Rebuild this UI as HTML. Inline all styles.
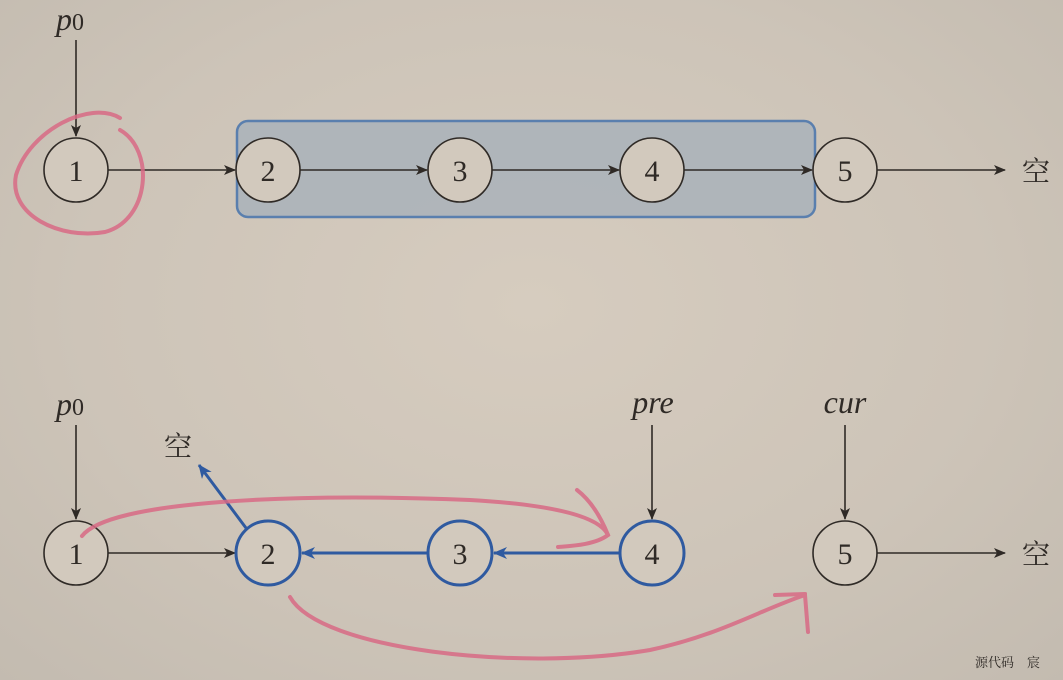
<!DOCTYPE html>
<html><head><meta charset="utf-8"><style>
html,body{margin:0;padding:0;width:1063px;height:680px;overflow:hidden}
body{background:radial-gradient(ellipse at 50% 45%,#d6ccbf 0%,#cdc4b8 60%,#c3bbb0 100%)}
text{font-family:"Liberation Serif","Noto Serif CJK SC",serif;fill:#2f2a26}
</style></head><body>
<svg width="1063" height="680" viewBox="0 0 1063 680">
<defs>
<marker id="a" markerWidth="12" markerHeight="10" refX="11" refY="5" orient="auto" markerUnits="userSpaceOnUse"><path d="M0,0 L12,5 L0,10 L3,5z" fill="#2f2a26"/></marker>
<marker id="b" markerWidth="14" markerHeight="12" refX="13" refY="6" orient="auto" markerUnits="userSpaceOnUse"><path d="M0,0 L14,6 L0,12 L4,6z" fill="#2f5aa0"/></marker>
</defs>
<rect x="237" y="121" width="578" height="96" rx="11" fill="#a9b1ba" fill-opacity="0.85" stroke="#5a7fae" stroke-width="2.5"/>
<g stroke="#2f2a26" stroke-width="1.6" fill="none">
<line x1="76" y1="40" x2="76" y2="136" marker-end="url(#a)"/>
<line x1="108" y1="170" x2="235" y2="170" marker-end="url(#a)"/>
<line x1="300" y1="170" x2="427" y2="170" marker-end="url(#a)"/>
<line x1="492" y1="170" x2="619" y2="170" marker-end="url(#a)"/>
<line x1="684" y1="170" x2="812" y2="170" marker-end="url(#a)"/>
<line x1="877" y1="170" x2="1005" y2="170" marker-end="url(#a)"/>
<line x1="76" y1="425" x2="76" y2="519" marker-end="url(#a)"/>
<line x1="652" y1="425" x2="652" y2="519" marker-end="url(#a)"/>
<line x1="845" y1="425" x2="845" y2="519" marker-end="url(#a)"/>
<line x1="108" y1="553" x2="235" y2="553" marker-end="url(#a)"/>
<line x1="877" y1="553" x2="1005" y2="553" marker-end="url(#a)"/>
</g>
<g stroke="#2f5aa0" stroke-width="3" fill="none">
<line x1="620" y1="553" x2="494" y2="553" marker-end="url(#b)"/>
<line x1="428" y1="553" x2="302" y2="553" marker-end="url(#b)"/>
<line x1="246" y1="528" x2="199" y2="465" marker-end="url(#b)"/>
</g>
<g fill="#d2c9bd" stroke="#2f2a26" stroke-width="1.6">
<circle cx="76" cy="170" r="32"/><circle cx="268" cy="170" r="32"/><circle cx="460" cy="170" r="32"/><circle cx="652" cy="170" r="32"/><circle cx="845" cy="170" r="32"/>
<circle cx="76" cy="553" r="32"/><circle cx="845" cy="553" r="32"/>
</g>
<g fill="#d2c9bd" stroke="#2f5aa0" stroke-width="3">
<circle cx="268" cy="553" r="32"/><circle cx="460" cy="553" r="32"/><circle cx="652" cy="553" r="32"/>
</g>
<g font-size="30" text-anchor="middle">
<text x="76" y="181">1</text><text x="268" y="181">2</text><text x="460" y="181">3</text><text x="652" y="181">4</text><text x="845" y="181">5</text>
<text x="76" y="564">1</text><text x="268" y="564">2</text><text x="460" y="564">3</text><text x="652" y="564">4</text><text x="845" y="564">5</text>
</g>
<g font-size="32" font-style="italic" text-anchor="middle">
<text x="70" y="30">p<tspan font-style="normal" font-size="24">0</tspan></text>
<text x="70" y="415">p<tspan font-style="normal" font-size="24">0</tspan></text>
<text x="653" y="413">pre</text>
<text x="845" y="413">cur</text>
</g>
<g font-size="28" font-family="Noto Serif CJK SC,serif">
<text x="1022" y="181">空</text><text x="1022" y="564">空</text><text x="164" y="456">空</text>
</g>
<g stroke="#d86a85" stroke-width="4" fill="none" stroke-linecap="round" opacity="0.85">
<path d="M120,118 C90,100 30,130 16,175 C8,215 60,240 105,232 C150,220 155,150 120,130"/>
<path d="M82,536 C110,500 300,493 470,500 C560,505 600,518 608,535 C595,545 570,546 558,547"/>
<path d="M577,490 C590,500 600,515 608,535"/>
<path d="M290,597 C320,650 520,672 650,650 C720,635 760,610 805,595 L808,632"/>
<path d="M775,595 L805,594"/>
</g>
<text x="975" y="667" font-size="13" font-family="Noto Sans CJK SC,sans-serif" fill="#222">源代码　宸</text>
</svg>
</body></html>
